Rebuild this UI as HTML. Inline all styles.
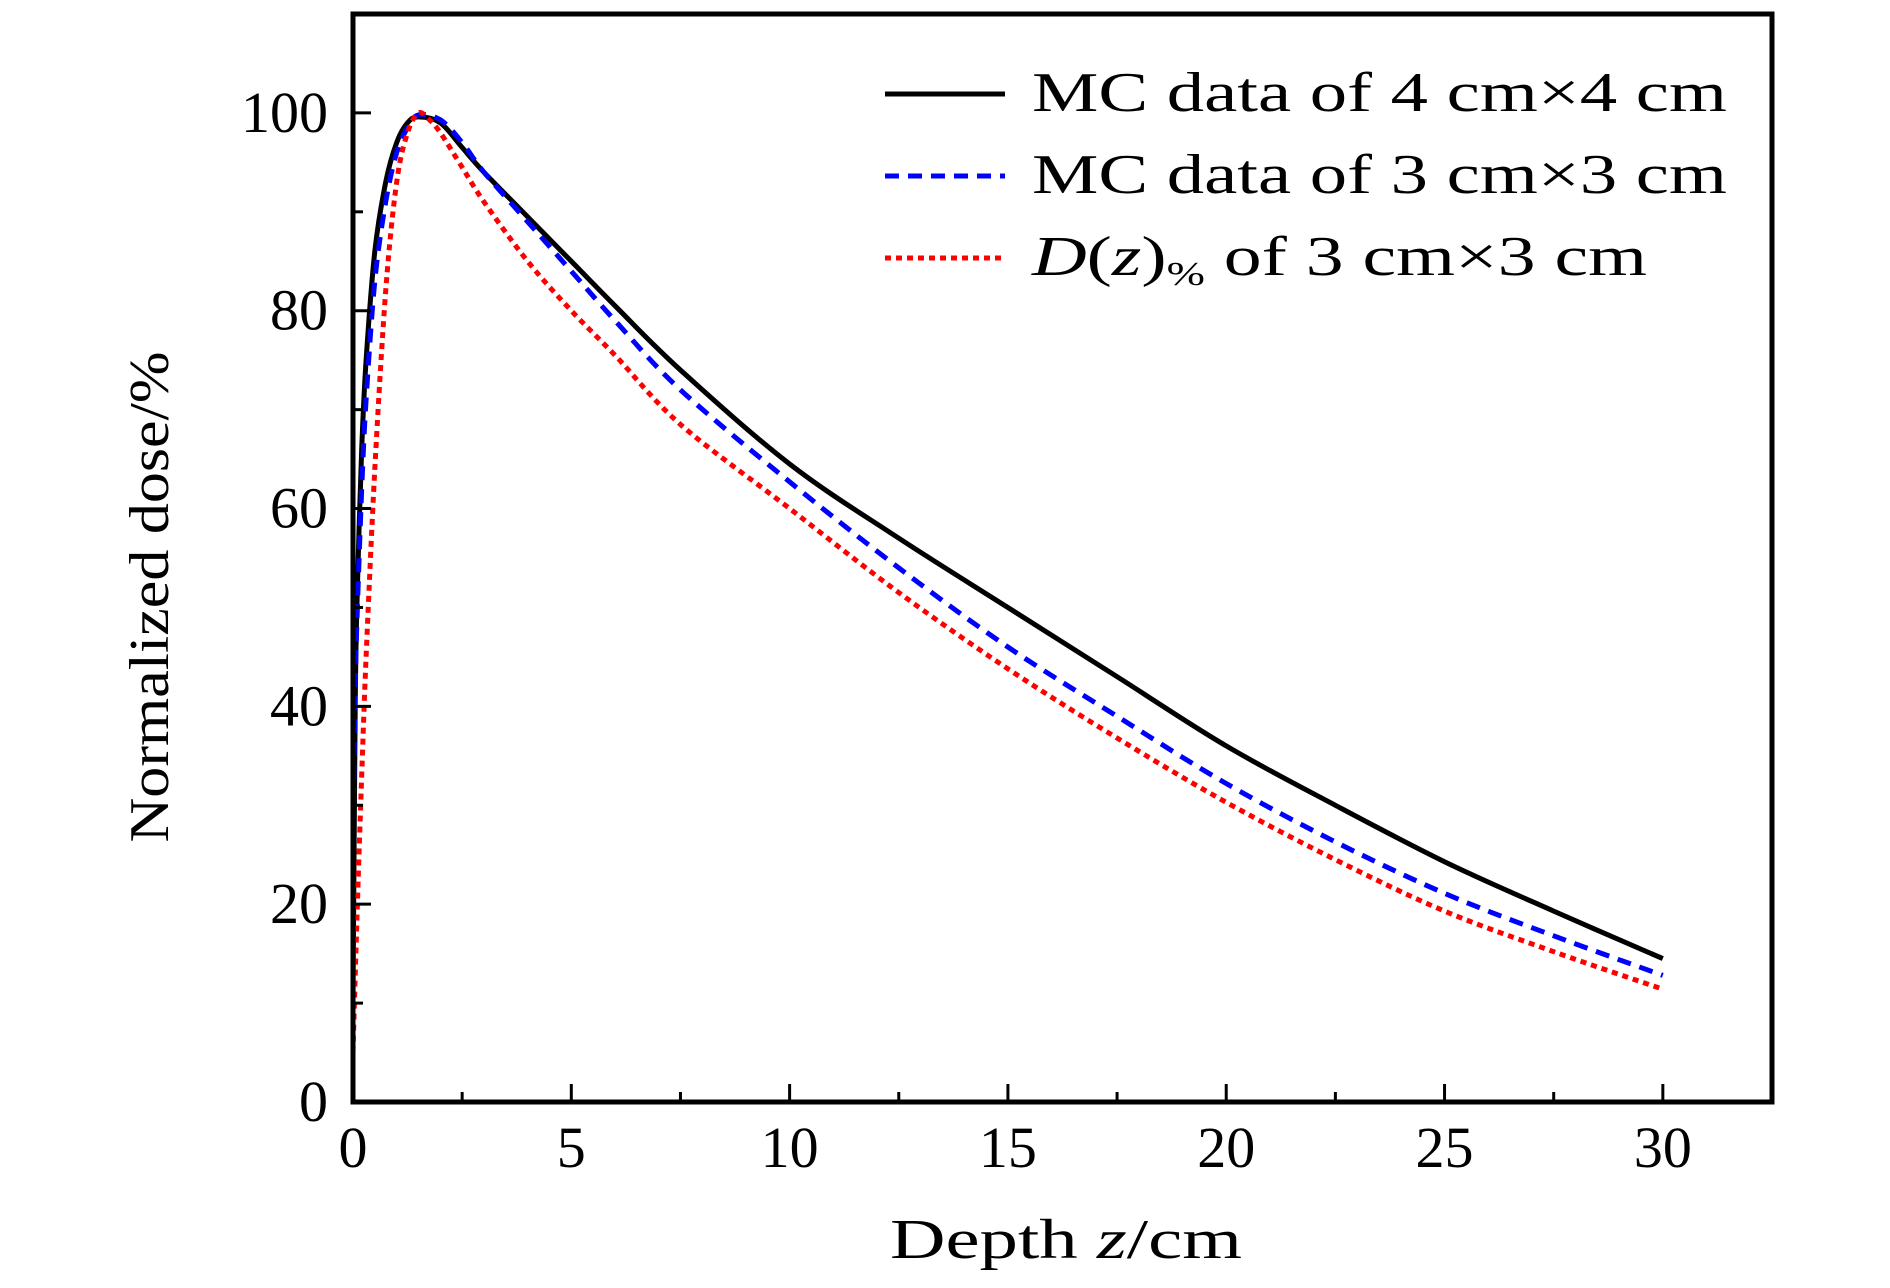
<!DOCTYPE html>
<html><head><meta charset="utf-8"><style>
html,body{margin:0;padding:0;background:#fff;}
svg{display:block;font-family:"Liberation Serif","DejaVu Serif",serif;}
</style></head><body>
<svg id="chart" width="1890" height="1288" viewBox="0 0 1890 1288" xmlns="http://www.w3.org/2000/svg">
<g id="grid"></g>
<g id="series"></g>
<g id="axes"></g>
<g id="legend">
  <line x1="885" y1="94" x2="1005" y2="94" stroke="#000" stroke-width="5"/>
  <text x="1032" y="111" font-size="56" textLength="695" lengthAdjust="spacingAndGlyphs">MC data of 4 cm×4 cm</text>
  <line x1="885" y1="176" x2="1005" y2="176" stroke="#0000ff" stroke-width="5" stroke-dasharray="14,9"/>
  <text x="1032" y="193" font-size="56" textLength="695" lengthAdjust="spacingAndGlyphs">MC data of 3 cm×3 cm</text>
  <line x1="885" y1="258" x2="1005" y2="258" stroke="#ff0000" stroke-width="5" stroke-dasharray="6,5"/>
  <text x="1032" y="275" font-size="56" textLength="615" lengthAdjust="spacingAndGlyphs"><tspan font-style="italic">D</tspan>(<tspan font-style="italic">z</tspan>)<tspan font-size="34" dy="10">%</tspan><tspan dy="-10"> of 3 cm×3 cm</tspan></text>
</g>
<text x="1066" y="1258" font-size="56" text-anchor="middle" textLength="352" lengthAdjust="spacingAndGlyphs">Depth <tspan font-style="italic">z</tspan>/cm</text>
<text x="0" y="0" font-size="56" text-anchor="middle" textLength="491" lengthAdjust="spacingAndGlyphs" transform="translate(168,597) rotate(-90)">Normalized dose/%</text>
</svg>
<script>
const xTicks = [0,5,10,15,20,25,30];
const yTicks = [0,20,40,60,80,100];
const depth4 = [0,0.05,0.1,0.2,0.3,0.5,0.75,1.0,1.25,1.5,2,2.5,3,4,5,6,7.5,10,12.5,15,17.5,20,22.5,25,27.5,30];
const dose4  = [10,40,52,66,75,86,93,97,99,99.6,99,96.5,94,89.5,85,80.5,74,64.5,57,50,43,36,30,24.3,19.3,14.5];
const depth3 = [0,0.05,0.1,0.2,0.3,0.5,0.75,1.0,1.25,1.5,2,2.5,3,4,5,6,7.5,10,12.5,15,17.5,20,22.5,25,27.5,30];
const dose3  = [28,42,50,62,71,83,91,96,98.5,99.8,99.3,97,94,89,84,79,72,62.7,54,46,39,32.2,26.3,21.1,16.8,12.8];
const depthD = [0,0.1,0.2,0.3,0.5,0.75,1.0,1.25,1.5,1.75,2,2.5,3,4,5,6,7.5,10,12.5,15,17.5,20,22.5,25,27.5,30];
const doseD  = [5,20,33,45,64,82,93,98,100,99.3,98,94.5,91,85,80,75.5,68.5,60,51.5,43.8,36.8,30.3,24.5,19.3,15.2,11.4];

const NS='http://www.w3.org/2000/svg';
const X0=353, X1=1772, Y0=1102, YT=14, XMAX=32.5, YMAX=110;
function sx(v){return X0+(X1-X0)*v/XMAX;}
function sy(v){return Y0-(Y0-YT)*v/YMAX;}
function mk(tag,attrs,parent){const e=document.createElementNS(NS,tag);for(const k in attrs)e.setAttribute(k,attrs[k]);parent.appendChild(e);return e;}

const series=document.getElementById('series');
function smoothPath(pts){
  let d='M'+pts[0][0].toFixed(1)+','+pts[0][1].toFixed(1);
  for(let i=0;i<pts.length-1;i++){
    const p0=pts[Math.max(i-1,0)],p1=pts[i],p2=pts[i+1],p3=pts[Math.min(i+2,pts.length-1)];
    const t=1/6;
    const c1=[p1[0]+(p2[0]-p0[0])*t,p1[1]+(p2[1]-p0[1])*t];
    const c2=[p2[0]-(p3[0]-p1[0])*t,p2[1]-(p3[1]-p1[1])*t];
    d+=' C'+c1[0].toFixed(1)+','+c1[1].toFixed(1)+' '+c2[0].toFixed(1)+','+c2[1].toFixed(1)+' '+p2[0].toFixed(1)+','+p2[1].toFixed(1);
  }
  return d;
}
function drawLine(xs,ys,color,dash,name){
  const pts=xs.map((x,i)=>[sx(x),sy(ys[i])]);
  const p=mk('path',{d:smoothPath(pts),fill:'none',stroke:color,'stroke-width':5,'stroke-linejoin':'round'},series);
  if(dash)p.setAttribute('stroke-dasharray',dash);
  
  
}
drawLine(depth4,dose4,'#000',null,'line-mc-4cm');
drawLine(depth3,dose3,'#0000ff','14,9','line-mc-3cm');
drawLine(depthD,doseD,'#ff0000','6,5','line-dz-3cm');

const axes=document.getElementById('axes');
const frame=mk('rect',{x:X0,y:YT,width:X1-X0,height:Y0-YT,fill:'none',stroke:'#000','stroke-width':5},axes);


for(let v=2.5; v<=30; v+=2.5){
  const major = xTicks.indexOf(v)>=0;
  const t=mk('line',{x1:sx(v),x2:sx(v),y1:Y0,y2:Y0-(major?18:10),stroke:'#000','stroke-width':3},axes);
  
  
}
xTicks.forEach(v=>{
  const t=mk('text',{x:sx(v),y:1167,'font-size':58,'text-anchor':'middle'},axes);
  t.textContent=v;
  
  
});
for(let v=10; v<=100; v+=10){
  const major = yTicks.indexOf(v)>=0;
  const t=mk('line',{x1:X0,x2:X0+(major?18:10),y1:sy(v),y2:sy(v),stroke:'#000','stroke-width':3},axes);
  
  
}
yTicks.forEach(v=>{
  const t=mk('text',{x:328,y:sy(v)+19,'font-size':58,'text-anchor':'end'},axes);
  t.textContent=v;
  
  
});
</script>
</body></html>
